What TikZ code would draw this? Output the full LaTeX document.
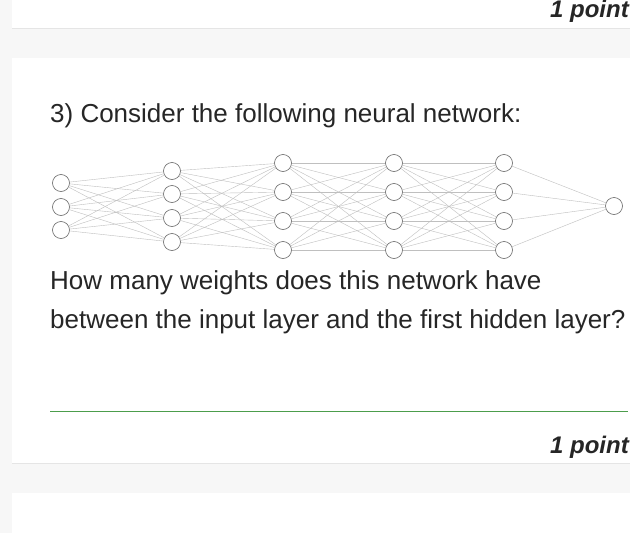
\documentclass[tikz,border=0pt]{standalone}
\usepackage{fontspec}
\setmainfont{Liberation Sans}
\begin{document}
\begin{tikzpicture}[x=1pt,y=-1pt,
  neuron/.style={circle,draw=black!60,fill=white,minimum size=17pt,inner sep=0pt,line width=0.6pt},
  wire/.style={draw=black!25,line width=0.4pt},
  pts/.style={anchor=base east,inner sep=0pt,font=\fontsize{24}{28}\selectfont\bfseries\itshape,text=black!85},
  txt/.style={anchor=base west,inner sep=0pt,font=\fontsize{26}{30}\selectfont,text=black!85}]
\fill[black!3] (0,0) rectangle (630,533);
\useasboundingbox (0,0) rectangle (630,533);
\fill[white] (12,-5) rectangle (630,28);
\draw[black!10] (12,28.5) -- (630,28.5);
\fill[white] (12,58) rectangle (630,463);
\draw[black!10] (12,463.5) -- (630,463.5);
\fill[white] (12,493) rectangle (630,540);
\node[pts] (p1) at (629,17) {1 point};
\node[pts] (p2) at (629,453) {1 point};
\node[txt] (q) at (50,122) {3) Consider the following neural network:};
\node[txt] (l1) at (50,289) {How many weights does this network have};
\node[txt] (l2) at (50,328) {between the input layer and the first hidden layer?};
\draw[green!45!black!70,line width=0.8pt] (50,411) -- (628,411);
\foreach \i/\y in {1/183,2/207,3/230} \node[neuron] (a\i) at (61,\y) {};
\foreach \i/\y in {1/171,2/194,3/218,4/242} \node[neuron] (b\i) at (172,\y) {};
\foreach \L/\x in {c/283,d/394,e/504}
  \foreach \i/\y in {1/163,2/192,3/221,4/250} \node[neuron] (\L\i) at (\x,\y) {};
\node[neuron] (f1) at (614,206) {};
\foreach \i in {1,2,3} \foreach \j in {1,...,4} \path[wire] (a\i) -- (b\j);
\foreach \i in {1,...,4} \foreach \j in {1,...,4} {\path[wire] (b\i) -- (c\j); \path[wire] (c\i) -- (d\j); \path[wire] (d\i) -- (e\j);}
\foreach \i in {1,...,4} \path[wire] (e\i) -- (f1);
\end{tikzpicture}
\end{document}
